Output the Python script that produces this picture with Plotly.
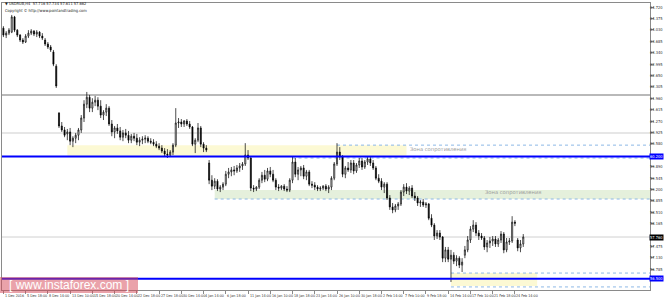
import plotly.graph_objects as go

# ---------------- data (USDRUB, H4) ----------------
opens = [64.08,63.87,63.93,63.96,64.42,64.02,63.87,63.72,63.66,63.84,63.93,63.99,63.90,63.96,63.84,63.72,63.60,63.51,63.36,62.93,
61.51,61.12,61.00,60.88,60.94,60.66,60.75,60.84,61.00,61.36,61.78,61.99,61.66,61.84,61.90,61.72,61.45,61.54,61.66,61.18,
60.94,61.06,60.97,60.78,60.91,60.84,60.69,60.81,60.75,60.63,60.69,60.72,60.75,60.66,60.63,60.57,60.51,60.45,60.36,60.27,
60.24,60.33,60.54,61.21,61.24,61.18,61.27,61.18,61.09,60.57,60.69,61.06,60.57,60.45,60.00,59.48,59.30,59.45,59.21,59.27,
59.36,59.66,59.73,59.79,59.76,59.85,59.91,59.97,60.24,60.15,59.24,59.21,59.27,59.48,59.63,59.51,59.76,59.66,59.48,59.27,
59.24,59.30,59.21,59.18,59.48,60.03,59.66,59.79,59.85,59.60,59.73,59.36,59.33,59.27,59.21,59.24,59.30,59.21,59.27,59.54,
59.97,60.33,60.18,59.66,59.85,59.79,60.00,59.76,59.94,60.06,59.88,60.03,60.12,60.00,59.85,59.54,59.45,59.27,59.36,58.94,
58.67,58.58,58.70,58.76,59.12,59.27,59.15,59.24,59.00,58.94,58.79,58.82,58.73,58.76,58.33,58.12,57.79,57.88,57.76,57.12,
57.37,57.09,57.21,57.03,57.12,56.91,57.21,57.37,57.67,58.00,58.12,57.88,57.79,57.73,57.46,57.58,57.64,57.70,57.55,57.67,
57.85,57.37,57.61,57.64,58.21,57.67,57.43,57.55]
highs = [64.14,63.99,64.08,64.48,64.45,64.05,63.90,63.78,63.90,64.02,64.05,64.02,64.02,63.99,63.93,63.78,63.66,63.57,63.42,62.99,
61.54,61.24,61.09,61.03,61.06,60.81,60.91,61.06,61.45,61.90,62.15,62.06,61.96,62.03,61.99,61.90,61.60,61.78,61.72,61.30,
61.12,61.18,61.09,61.00,61.03,60.97,60.88,60.91,60.88,60.78,60.81,60.84,60.81,60.75,60.72,60.66,60.60,60.54,60.45,60.42,
60.39,60.60,61.66,61.36,61.33,61.30,61.33,61.27,61.12,60.75,61.21,61.12,60.63,60.54,60.09,59.63,59.54,59.51,59.33,59.42,
59.76,59.85,59.88,59.91,59.94,60.00,60.03,60.60,60.39,60.21,59.33,59.30,59.54,59.73,59.79,59.85,59.88,59.79,59.54,59.36,
59.33,59.36,59.30,59.54,60.18,60.15,59.88,59.91,59.94,59.79,59.79,59.45,59.42,59.33,59.30,59.33,59.36,59.33,59.60,60.03,
60.60,60.48,60.24,59.91,60.03,60.09,60.09,60.00,60.15,60.15,60.09,60.18,60.18,60.09,59.91,59.66,59.54,59.42,59.42,59.03,
58.79,58.76,58.82,59.18,59.36,59.39,59.30,59.33,59.12,59.00,58.88,58.91,58.82,58.79,58.45,58.18,57.97,57.97,57.79,57.46,
57.46,57.37,57.30,57.21,57.18,57.12,57.49,57.79,58.09,58.27,58.21,57.97,57.88,57.79,57.67,57.76,57.79,57.79,57.73,57.94,
57.91,57.73,57.73,58.39,58.27,57.73,57.67,57.85]
lows = [63.81,63.78,63.87,63.93,63.96,63.81,63.66,63.60,63.63,63.78,63.87,63.84,63.81,63.78,63.72,63.54,63.45,63.36,62.93,62.27,
61.06,60.94,60.78,60.69,60.54,60.48,60.60,60.69,60.91,61.24,61.66,61.54,61.54,61.72,61.60,61.36,61.30,61.42,61.12,60.81,
60.75,60.88,60.69,60.66,60.75,60.60,60.60,60.66,60.54,60.51,60.57,60.60,60.60,60.57,60.51,60.45,60.39,60.30,60.21,60.15,
60.18,60.24,60.48,61.06,61.09,61.09,61.12,61.03,60.51,60.30,60.63,60.48,60.33,60.33,59.36,59.18,59.21,59.15,59.12,59.18,
59.30,59.54,59.60,59.63,59.70,59.73,59.79,59.91,60.09,59.15,59.12,59.15,59.21,59.39,59.42,59.45,59.57,59.42,59.18,59.15,
59.18,59.15,59.12,59.12,59.39,59.57,59.48,59.60,59.51,59.48,59.30,59.24,59.18,59.15,59.15,59.18,59.15,59.09,59.18,59.48,
59.91,60.09,59.57,59.54,59.73,59.70,59.66,59.70,59.85,59.79,59.82,59.94,59.91,59.79,59.48,59.39,59.18,59.09,58.88,58.58,
58.48,58.51,58.58,58.70,59.00,59.06,59.03,58.94,58.85,58.70,58.67,58.67,58.64,58.27,58.06,57.67,57.70,57.67,57.00,57.00,
57.00,56.40,56.94,56.88,56.82,56.70,57.12,57.30,57.58,57.91,57.79,57.67,57.67,57.37,57.30,57.43,57.49,57.46,57.46,57.58,
57.27,57.30,57.52,57.58,58.09,57.33,57.30,57.46]
closes = [63.87,63.93,64.02,64.42,64.02,63.87,63.72,63.66,63.84,63.93,63.99,63.90,63.96,63.84,63.78,63.60,63.51,63.42,62.99,62.33,
61.12,61.00,60.84,60.94,60.66,60.75,60.84,61.00,61.36,61.78,61.99,61.66,61.84,61.90,61.72,61.45,61.54,61.66,61.18,60.94,
61.06,60.97,60.78,60.91,60.84,60.69,60.81,60.75,60.63,60.69,60.72,60.75,60.66,60.63,60.57,60.51,60.45,60.36,60.27,60.24,
60.33,60.54,61.21,61.24,61.18,61.27,61.18,61.09,60.57,60.69,61.06,60.57,60.45,60.39,59.48,59.30,59.45,59.21,59.27,59.36,
59.66,59.73,59.79,59.76,59.85,59.91,59.97,60.24,60.15,59.24,59.21,59.27,59.48,59.63,59.51,59.76,59.66,59.48,59.27,59.24,
59.30,59.21,59.18,59.48,60.03,59.66,59.79,59.85,59.60,59.73,59.36,59.33,59.27,59.21,59.24,59.30,59.21,59.27,59.54,59.97,
60.33,60.18,59.66,59.85,59.79,60.00,59.76,59.94,60.06,59.88,60.03,60.12,60.00,59.85,59.54,59.45,59.27,59.36,58.94,58.67,
58.58,58.70,58.76,59.12,59.27,59.15,59.24,59.00,58.94,58.79,58.82,58.73,58.76,58.33,58.12,57.79,57.88,57.76,57.12,57.37,
57.09,57.21,57.03,57.12,56.91,57.00,57.37,57.67,58.00,58.12,57.88,57.79,57.73,57.46,57.58,57.64,57.70,57.55,57.67,57.85,
57.37,57.61,57.64,58.21,58.18,57.43,57.55,57.76]
bars = list(range(len(closes)))

date_labels = ["1 Dec 2016", "5 Dec 18:00", "8 Dec 14:00", "13 Dec 10:00", "15 Dec 18:00", "20 Dec 14:00",
               "22 Dec 18:00", "27 Dec 18:00", "30 Dec 14:00", "4 Jan 14:00", "6 Jan 18:00", "11 Jan 14:00",
               "16 Jan 10:00", "18 Jan 18:00", "23 Jan 14:00", "26 Jan 10:00", "30 Jan 18:00", "2 Feb 14:00",
               "7 Feb 10:00", "9 Feb 18:00", "14 Feb 14:00", "17 Feb 10:00", "21 Feb 18:00", "24 Feb 14:00"]
date_label_bars = [0, 8, 16, 24, 32, 40, 48, 56, 64, 72, 80, 88, 96, 104, 112, 120, 128, 136, 144, 152, 160, 168, 176, 184]

price_ticks = [64.720, 64.375, 64.030, 63.685, 63.340, 62.995, 62.650, 62.305, 61.960, 61.615, 61.270, 60.925,
               60.580, 60.235, 59.890, 59.545, 59.200, 58.855, 58.510, 58.165, 57.820, 57.475, 57.130, 56.785,
               56.440, 56.095]

blue_levels = [60.200, 56.500]
gray_level = 62.06
light_gray_level = 60.91
zone_upper = (60.22, 60.54)     # yellow resistance zone
zone_middle = (58.91, 59.18)    # green resistance zone
zone_lower = (56.28, 56.67)     # small yellow zone
zone_text = "Зона сопротивления"
header_text = "▼ USDRUB,H4  57.716 57.734 57.611 57.662"
copyright_text = "Copyright © http://www.pointandtrading.com"

# ---------------- layout helpers ----------------
W, H = 665, 302
L, R, T, B = 2, 15, 3, 12
X_RANGE = [-0.504, 232.59]
Y_RANGE = [56.157, 64.841]
PX_PER_PRICE = (H - T - B) / (Y_RANGE[1] - Y_RANGE[0])


def px(xp):
    return (xp - L) / (W - L - R)


def py(yp):
    return (H - B - yp) / (H - T - B)


SMALL = "Liberation Sans Narrow, DejaVu Sans Condensed, Arial Narrow, sans-serif"
AX_FONT = dict(family=SMALL, size=4, color="#333333")
DATE_FONT = dict(family=SMALL, size=3.7, color="#333333")

fig = go.Figure()
fig.add_trace(go.Candlestick(
    x=bars, open=opens, high=highs, low=lows, close=closes,
    increasing=dict(line=dict(color="#000000", width=0.7), fillcolor="#ffffff"),
    decreasing=dict(line=dict(color="#000000", width=0.7), fillcolor="#000000"),
    whiskerwidth=0, showlegend=False, hoverinfo="skip",
))

shapes = []
# zones
shapes.append(dict(type="rect", xref="x", yref="y", x0=23, x1=145, y0=zone_upper[0], y1=zone_upper[1],
                   fillcolor="#fcf9d4", line=dict(width=0), layer="below"))
shapes.append(dict(type="rect", xref="x", yref="y", x0=76, x1=X_RANGE[1], y0=zone_middle[0], y1=zone_middle[1],
                   fillcolor="#e5f0dc", line=dict(width=0), layer="below"))
shapes.append(dict(type="rect", xref="x", yref="y", x0=161, x1=192, y0=zone_lower[0], y1=zone_lower[1],
                   fillcolor="#fcf9d4", line=dict(width=0), layer="below"))
# horizontal lines
shapes.append(dict(type="line", xref="paper", yref="y", x0=0, x1=1, y0=gray_level, y1=gray_level,
                   line=dict(color="#b9b9b9", width=2), layer="below"))
shapes.append(dict(type="line", xref="paper", yref="y", x0=0, x1=1, y0=light_gray_level, y1=light_gray_level,
                   line=dict(color="#dedede", width=1.5), layer="below"))
shapes.append(dict(type="line", xref="paper", yref="y", x0=0, x1=1, y0=closes[-1], y1=closes[-1],
                   line=dict(color="#d0d0d0", width=1), layer="below"))
# dotted lines
for y0, xs in [(zone_upper[1], 120), (60.15, 104), (zone_middle[0], 76), (zone_lower[1], 161), (zone_lower[0] - 0.03, 161)]:
    shapes.append(dict(type="line", xref="x", yref="y", x0=xs, x1=X_RANGE[1], y0=y0, y1=y0,
                       line=dict(color="#8db8e6", width=1, dash="dot"), layer="below"))
for lv in blue_levels:
    shapes.append(dict(type="line", xref="paper", yref="y", x0=0, x1=1, y0=lv, y1=lv,
                       line=dict(color="#0000ff", width=2)))
# watermark box
shapes.append(dict(type="rect", xref="paper", yref="paper", x0=px(0), x1=px(138), y0=py(293), y1=py(277),
                   fillcolor="rgba(214,70,85,0.5)", line=dict(width=0)))

ann = []
# header
ann.append(dict(xref="paper", yref="paper", x=px(4), y=py(4), text=header_text, showarrow=False,
                xanchor="left", yanchor="middle", borderpad=0, font=dict(family=SMALL, size=4, color="#222")))
ann.append(dict(xref="paper", yref="paper", x=px(4), y=py(10), text=copyright_text, showarrow=False,
                xanchor="left", yanchor="middle", borderpad=0, font=dict(family=SMALL, size=4, color="#222")))
# right axis labels (those hidden under the highlighted price boxes are not drawn, as in the terminal)
highlighted = blue_levels + [closes[-1]]
for v in price_ticks:
    if min(abs(v - h) for h in highlighted) * PX_PER_PRICE < 6:
        continue
    ann.append(dict(xref="paper", yref="y", x=px(664), y=v, text=f"{v:.3f}", showarrow=False,
                    xanchor="right", yanchor="middle", borderpad=0, font=AX_FONT))
# highlighted price labels
for lv in blue_levels:
    ann.append(dict(xref="paper", yref="y", x=px(664), y=lv, text=f"{lv:.3f}", showarrow=False,
                    xanchor="right", yanchor="middle", bgcolor="#0000ff", borderpad=0,
                    font=dict(family=SMALL, size=4, color="#ffffff")))
ann.append(dict(xref="paper", yref="y", x=px(664), y=closes[-1], text=f"{closes[-1]:.3f}", showarrow=False,
                xanchor="right", yanchor="middle", bgcolor="#000000", borderpad=0,
                font=dict(family=SMALL, size=4, color="#ffffff")))
# date labels
for b, t in zip(date_label_bars, date_labels):
    ann.append(dict(xref="x", yref="paper", x=b, y=py(296), text=t, showarrow=False,
                    xanchor="left", yanchor="middle", xshift=0.5, borderpad=0, font=DATE_FONT))
# zone texts
ann.append(dict(xref="x", yref="y", x=146, y=(zone_upper[0] + zone_upper[1]) / 2 + 0.02, text=zone_text,
                showarrow=False, xanchor="left", yanchor="middle", borderpad=0,
                font=dict(family="DejaVu Sans", size=5.2, color="#9a9a9a")))
ann.append(dict(xref="x", yref="y", x=173, y=(zone_middle[0] + zone_middle[1]) / 2 + 0.05, text=zone_text,
                showarrow=False, xanchor="left", yanchor="middle", borderpad=0,
                font=dict(family="DejaVu Sans", size=5.2, color="#9a9a9a")))
# watermark text
ann.append(dict(xref="paper", yref="paper", x=px(69), y=py(285), text="[ www.instaforex.com ]",
                showarrow=False, xanchor="center", yanchor="middle",
                font=dict(family="Liberation Sans", size=12, color="#ffffff")))

fig.update_layout(
    width=W, height=H, margin=dict(l=L, r=R, t=T, b=B),
    paper_bgcolor="#ffffff", plot_bgcolor="#ffffff",
    shapes=shapes, annotations=ann, showlegend=False, boxgap=0.45,
    xaxis=dict(range=X_RANGE, showgrid=False, zeroline=False, showticklabels=False,
               rangeslider=dict(visible=False), showline=True, linecolor="#8a8a8a", linewidth=1, mirror=True,
               ticks="outside", ticklen=3, tickcolor="#8a8a8a", tickvals=date_label_bars),
    yaxis=dict(range=Y_RANGE, side="right", showgrid=False, zeroline=False, showticklabels=False,
               showline=True, linecolor="#8a8a8a", linewidth=1, mirror=True,
               ticks="outside", ticklen=3, tickcolor="#8a8a8a", tickvals=price_ticks),
)

fig.write_html("out.html")
